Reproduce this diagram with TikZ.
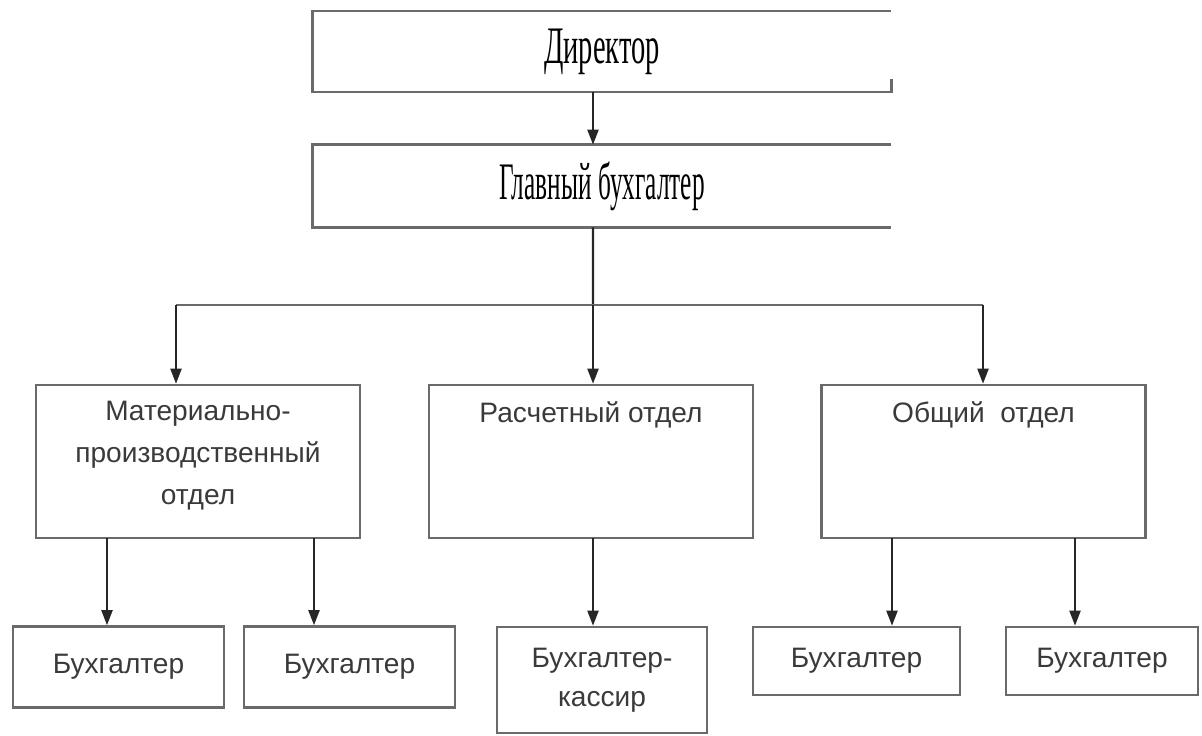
\documentclass[tikz,border=0pt]{standalone}
\usepackage{fontspec}
\setmainfont{Liberation Serif}
\setsansfont{Liberation Sans}
\usepackage{graphicx}
\usepackage{tikz}
\usetikzlibrary{shapes, arrows, arrows.meta, positioning}
\usepackage{xcolor}
\definecolor{boxgray}{HTML}{6A6A6A}
\definecolor{textgray}{HTML}{3A3A3A}
\tikzstyle{head} = [
    rectangle,
    minimum width=11.56cm,
    minimum height=1.6cm,
    text centered,
    font=\fontsize{30}{32}\selectfont
]
\tikzstyle{frame} = [
    draw=boxgray,
    line width=1.5pt
]
\tikzstyle{dept} = [
    rectangle,
    draw=boxgray,
    line width=1.5pt,
    minimum width=6.48cm,
    minimum height=3.06cm
]
\tikzstyle{deptText} = [
    align=center,
    inner sep=0pt,
    text=textgray,
    font=\sffamily\fontsize{16}{24}\selectfont
]
\tikzstyle{staff} = [
    rectangle,
    draw=boxgray,
    line width=1.5pt,
    minimum width=4.22cm,
    minimum height=1.62cm,
    align=center,
    text=textgray,
    font=\sffamily\fontsize{16}{22}\selectfont
]
\tikzstyle{link} = [
    -{Triangle[length=0.3cm, width=0.22cm]},
    line width=1.2pt,
    draw=black!85
]

\begin{document}
\begin{tikzpicture}[x=0.02cm, y=-0.02cm]
            \useasboundingbox (0,0) rectangle (1202,735);

            % top of the chart
            \node[head] (director) at (602,51.5) {\scalebox{0.54}[1]{Директор}};
            \node[head, minimum height=1.64cm] (chiefAccountant) at (602,186) {\scalebox{0.48}[1]{Главный бухгалтер}};
            \draw[frame] (director.north east) -- (director.north west) -- (director.south west) -- (director.south east) -- ++(0,-13);
            \draw[frame] (chiefAccountant.north east) -- (chiefAccountant.north west) -- (chiefAccountant.south west) -- (chiefAccountant.south east);

            % departments
            \node[dept] (matDept) at (198,461.5) {};
            \node[dept] (calcDept) at (591,461.5) {};
            \node[dept] (genDept) at (983.5,461.5) {};
            \node[deptText, below=0.34cm of matDept.north] (matText) {Материально-\\производственный\\отдел};
            \node[deptText, below=0.36cm of calcDept.north] (calcText) {Расчетный отдел};
            \node[deptText, below=0.36cm of genDept.north] (genText) {Общий~ отдел};

            % staff
            \node[staff] (matAccA) at (118.5,667) {Бухгалтер};
            \node[staff] (matAccB) at (349.5,667) {Бухгалтер};
            \node[staff, minimum width=4.2cm, minimum height=2.12cm] (cashier) at (602,680) {Бухгалтер-\\кассир};
            \node[staff, minimum width=4.14cm, minimum height=1.36cm] (genAccA) at (856.5,661) {Бухгалтер};
            \node[staff, minimum width=3.84cm, minimum height=1.36cm] (genAccB) at (1102,661) {Бухгалтер};

            % links
            \coordinate (branch) at (593,305);
            \coordinate (branchL) at (176,305);
            \coordinate (branchR) at (983,305);
            \draw[link] ([xshift=-0.18cm]director.south) -- ([xshift=-0.18cm]chiefAccountant.north);
            \draw[line width=1.2pt, draw=black!85] ([xshift=-0.18cm]chiefAccountant.south) -- (branch);
            \draw[line width=1.5pt, draw=boxgray] (branchL) -- (branchR);
            \draw[link] (branchL) -- (branchL |- matDept.north);
            \draw[link] (branch) -- (branch |- calcDept.north);
            \draw[link] (branchR) -- (branchR |- genDept.north);

            \coordinate (matL) at (107,538);
            \coordinate (matR) at (314,538);
            \coordinate (calcM) at (593,538);
            \coordinate (genL) at (892,538);
            \coordinate (genR) at (1075,538);
            \draw[link] (matL) -- (matL |- matAccA.north);
            \draw[link] (matR) -- (matR |- matAccB.north);
            \draw[link] (calcM) -- (calcM |- cashier.north);
            \draw[link] (genL) -- (genL |- genAccA.north);
            \draw[link] (genR) -- (genR |- genAccB.north);
        \end{tikzpicture}
\end{document}
